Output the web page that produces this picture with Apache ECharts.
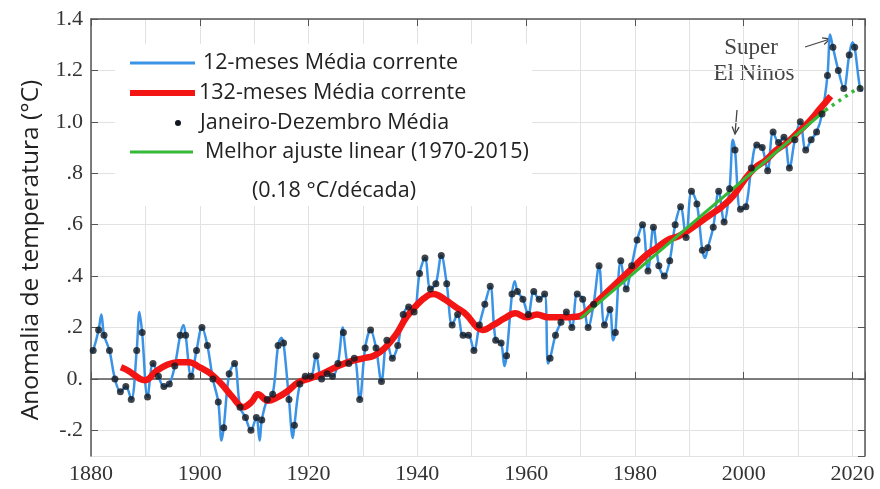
<!DOCTYPE html>
<html><head><meta charset="utf-8">
<script src="https://cdn.jsdelivr.net/npm/echarts@6/dist/echarts.min.js"></script>
<style>html,body{margin:0;padding:0;background:#fff}#c{width:880px;height:489px}</style>
</head><body><div id="c"></div>
<script>
// ---------- DATA ----------
const years = [];
for (let y = 1880; y <= 2021; y++) years.push(y);

// Jan-Dec annual means (black dots)
const annualMean = [
  0.11, 0.19, 0.17, 0.11, 0.00, -0.05, -0.03, -0.08, 0.11, 0.18,
  -0.07, 0.06, 0.01, -0.03, -0.02, 0.05, 0.17, 0.17, 0.01, 0.11,
  0.20, 0.13, 0.00, -0.09, -0.19, 0.02, 0.06, -0.11, -0.15, -0.20,
  -0.15, -0.16, -0.08, -0.06, 0.13, 0.14, -0.08, -0.18, -0.02, 0.01,
  0.01, 0.09, 0.00, 0.02, 0.01, 0.06, 0.18, 0.06, 0.08, -0.08,
  0.12, 0.19, 0.12, -0.01, 0.15, 0.08, 0.13, 0.25, 0.28, 0.26,
  0.41, 0.47, 0.35, 0.37, 0.48, 0.37, 0.21, 0.25, 0.17, 0.17,
  0.11, 0.21, 0.29, 0.36, 0.15, 0.14, 0.09, 0.33, 0.34, 0.31,
  0.25, 0.34, 0.31, 0.33, 0.08, 0.17, 0.22, 0.26, 0.20, 0.33,
  0.31, 0.20, 0.29, 0.44, 0.21, 0.27, 0.18, 0.46, 0.35, 0.44,
  0.54, 0.60, 0.42, 0.59, 0.44, 0.40, 0.46, 0.60, 0.67, 0.55,
  0.73, 0.68, 0.50, 0.51, 0.59, 0.73, 0.61, 0.74, 0.89, 0.66,
  0.67, 0.82, 0.91, 0.90, 0.81, 0.96, 0.92, 0.94, 0.82, 0.93,
  1.00, 0.89, 0.93, 0.96, 1.03, 1.18, 1.29, 1.20, 1.13, 1.26,
  1.29, 1.13
];
// extra turning points of the 12-month running mean (between annual dots)
const running12Extra = [
  [1880.05, 0.10], [1881.9, 0.25], [1888.9, 0.26], [1897.0, 0.21],
  [1904.0, -0.24], [1911.0, -0.24], [1915.0, 0.16], [1917.1, -0.23],
  [1926.3, 0.20], [1956.0, 0.05], [1957.9, 0.38], [1964.0, 0.06],
  [1976.0, 0.15], [1992.9, 0.47], [1998.0, 0.93], [2015.9, 1.34],
  [2020.0, 1.31], [2021.9, 1.12]
];
// 132-month running mean
const running132Years = [1885.5,1887,1889,1890,1892,1894,1896,1898,1900,1902,1904,1906,1908,1909.5,1910.7,1912.5,1914,1916,1918,1920,1922,1924,1926,1928,1930,1932,1934,1936,1938,1940,1942,1943,1945,1947,1949,1951,1952,1954,1956,1958,1960,1962,1964,1966,1968,1970,1972,1974,1976,1978,1980,1982,1984,1986,1988,1990,1992,1994,1996,1998,2000,2002,2004,2006,2008,2010,2012,2014,2016];
const running132 = [0.045,0.03,0.0,-0.005,0.03,0.055,0.065,0.065,0.045,0.02,-0.02,-0.07,-0.11,-0.09,-0.06,-0.085,-0.075,-0.05,-0.015,0.0,0.015,0.035,0.055,0.07,0.08,0.09,0.12,0.17,0.24,0.29,0.325,0.33,0.31,0.28,0.25,0.20,0.19,0.21,0.235,0.255,0.24,0.25,0.24,0.24,0.24,0.245,0.28,0.32,0.36,0.40,0.44,0.48,0.51,0.54,0.555,0.58,0.61,0.64,0.67,0.71,0.77,0.82,0.85,0.89,0.92,0.96,1.00,1.05,1.10];
// best linear fit 1970-2015 and its extension
const fitYears = [1970, 2015];
const fitValues = [0.235, 1.045];
const fitExtYears = [2015, 2021.6];
const fitExtValues = [1.045, 1.14];
// axis ticks
const xTickYears = [1880, 1900, 1920, 1940, 1960, 1980, 2000, 2020];
const yTickValues = [-0.2, 0, 0.2, 0.4, 0.6, 0.8, 1.0, 1.2, 1.4];
const yTickLabels = ['-.2', '0.', '.2', '.4', '.6', '.8', '1.0', '1.2', '1.4'];

const legendLabels = ['12-meses Média corrente', '132-meses Média corrente', 'Janeiro-Dezembro Média', 'Melhor ajuste linear (1970-2015)'];
const legendNote = '(0.18 °C/década)';
const yTitle = 'Anomalia de temperatura (°C)';
const annotationLines = ['Super', 'El Ninos'];

// ---------- BUILD ----------
const DOT_OFFSET = 0.4;
const dots = years.map((y, i) => [y + DOT_OFFSET, annualMean[i]]);
const blue = dots.concat(running12Extra).sort((a, b) => a[0] - b[0]);
const red = running132Years.map((y, i) => [y, running132[i]]);
const green = fitYears.map((y, i) => [y, fitValues[i]]);
const greenExt = fitExtYears.map((y, i) => [y, fitExtValues[i]]);

const C_BLUE = '#3b93e6', C_RED = '#f31414', C_GREEN = '#35b835', C_FRAME = '#555', C_DOT = '#10161e';
const serif = 'Liberation Serif', sans = 'Open Sans';

function yLabel(v) {
  for (let i = 0; i < yTickValues.length; i++) if (Math.abs(v - yTickValues[i]) < 1e-6) return yTickLabels[i];
  return '';
}
function xLabel(v) {
  return xTickYears.some(t => Math.abs(t - v) < 1e-6) ? String(v) : '';
}

const XMIN = 1880, XMAX = 2022.3, YMIN = -0.3, YMAX = 1.4;
const gridCfg = { left: 91, right: 15, top: 19, bottom: 33 };

const chart = echarts.init(document.getElementById('c'), null, { renderer: 'canvas' });

const option = {
  animation: false,
  backgroundColor: '#fff',
  grid: gridCfg,
  xAxis: [
    { type: 'value', min: XMIN, max: XMAX, interval: 20, position: 'bottom',
      axisLine: { show: true, lineStyle: { color: C_FRAME, width: 1.5 } },
      axisTick: { show: true, inside: true, length: 7, lineStyle: { color: C_FRAME } },
      axisLabel: { formatter: xLabel, fontFamily: serif, fontSize: 22, color: '#333', margin: 7 },
      splitLine: { show: false } },
    { type: 'value', min: XMIN, max: XMAX, interval: 20, position: 'top',
      axisLine: { show: true, onZero: false, lineStyle: { color: C_FRAME, width: 1.5 } },
      axisTick: { show: true, inside: true, length: 7, lineStyle: { color: C_FRAME } },
      axisLabel: { show: false }, splitLine: { show: false } },
    { type: 'value', min: XMIN, max: XMAX, interval: 10, position: 'bottom',
      axisLine: { show: false }, axisTick: { show: false }, axisLabel: { show: false },
      splitLine: { show: true, lineStyle: { color: '#e2e2e2', width: 1 } } }
  ],
  yAxis: [
    { type: 'value', min: YMIN, max: YMAX, splitNumber: 8, position: 'left',
      axisLine: { show: true, onZero: false, lineStyle: { color: C_FRAME, width: 1.5 } },
      axisTick: { show: true, inside: true, length: 7, lineStyle: { color: C_FRAME } },
      axisLabel: { formatter: yLabel, fontFamily: serif, fontSize: 22, color: '#333', margin: 8, showMinLabel: false },
      splitLine: { show: true, lineStyle: { color: '#e2e2e2', width: 1 } } },
    { type: 'value', min: YMIN, max: YMAX, splitNumber: 8, position: 'right',
      axisLine: { show: true, onZero: false, lineStyle: { color: C_FRAME, width: 1.5 } },
      axisTick: { show: true, inside: true, length: 7, lineStyle: { color: C_FRAME } },
      axisLabel: { show: false }, splitLine: { show: false } }
  ],
  series: [
    { name: legendLabels[0], type: 'line', data: blue, smooth: 0.35, showSymbol: false,
      lineStyle: { color: C_BLUE, width: 2.5 }, z: 2 },
    { name: legendLabels[1], type: 'line', data: red, smooth: 0.4, showSymbol: false,
      lineStyle: { color: C_RED, width: 6.5 }, z: 3 },
    { name: legendLabels[3], type: 'line', data: green, showSymbol: false,
      lineStyle: { color: C_GREEN, width: 3 }, z: 4 },
    { name: legendLabels[3] + ' ext', type: 'line', data: greenExt, showSymbol: false,
      lineStyle: { color: C_GREEN, width: 3.5, type: [3, 5] }, z: 4 },
    { name: legendLabels[2], type: 'scatter', data: dots, symbol: 'circle', symbolSize: 7,
      itemStyle: { color: C_DOT }, z: 5 }
  ],
  graphic: []
};
chart.setOption(option);

// ---------- LEGEND & ANNOTATIONS ----------
const g = [];
// white legend box hiding the grid lines
g.push({ type: 'rect', shape: { x: 115, y: 44, width: 417, height: 162 }, style: { fill: '#fff' }, z: 10 });
const rowY = [63, 93, 123, 152];
const lineX0 = 130, lineX1 = 195;
g.push({ type: 'line', shape: { x1: lineX0, y1: rowY[0], x2: lineX1, y2: rowY[0] }, style: { stroke: C_BLUE, lineWidth: 3 }, z: 11 });
g.push({ type: 'line', shape: { x1: lineX0, y1: rowY[1], x2: lineX1, y2: rowY[1] }, style: { stroke: C_RED, lineWidth: 6 }, z: 11 });
g.push({ type: 'circle', shape: { cx: 178, cy: rowY[2], r: 3 }, style: { fill: C_DOT }, z: 11 });
g.push({ type: 'line', shape: { x1: lineX0, y1: rowY[3], x2: lineX1 - 2, y2: rowY[3] }, style: { stroke: C_GREEN, lineWidth: 3 }, z: 11 });
const textX = [203, 199, 200, 205];
legendLabels.forEach((t, i) => g.push({ type: 'text', x: textX[i], y: rowY[i], z: 11,
  style: { text: t, fontFamily: sans, fontSize: 21.5, fill: '#222', verticalAlign: 'middle', align: 'left' } }));
g.push({ type: 'text', x: 252, y: 191, z: 11, style: { text: legendNote, fontFamily: sans, fontSize: 21.5, fill: '#222', verticalAlign: 'middle', align: 'left' } });
g.push({ type: 'text', x: 31, y: 250, rotation: Math.PI / 2,
  style: { text: yTitle, fontFamily: sans, fontSize: 24.5, fill: '#222', verticalAlign: 'middle', align: 'center' } });
g.push({ type: 'text', x: 751, y: 48, style: { text: annotationLines[0], fontFamily: serif, fontSize: 23, fill: '#444', verticalAlign: 'middle', align: 'center' } });
g.push({ type: 'text', x: 754, y: 74, style: { text: annotationLines[1], fontFamily: serif, fontSize: 23, fill: '#444', verticalAlign: 'middle', align: 'center' } });

function arrow(x1, y1, x2, y2) {
  const dx = x2 - x1, dy = y2 - y1, L = Math.hypot(dx, dy), ux = dx / L, uy = dy / L, h = 8, a = Math.PI / 7;
  const p1 = [x2 - h * (ux * Math.cos(a) - uy * Math.sin(a)), y2 - h * (uy * Math.cos(a) + ux * Math.sin(a))];
  const p2 = [x2 - h * (ux * Math.cos(a) + uy * Math.sin(a)), y2 - h * (uy * Math.cos(a) - ux * Math.sin(a))];
  g.push({ type: 'line', shape: { x1, y1, x2, y2 }, style: { stroke: '#444', lineWidth: 1.3 } });
  g.push({ type: 'polyline', shape: { points: [p1, [x2, y2], p2] }, style: { stroke: '#444', lineWidth: 1.3, fill: null } });
}
arrow(805, 47, 830, 39);
arrow(737, 110, 735, 134);

chart.setOption({ graphic: g });
</script>
</body></html>
